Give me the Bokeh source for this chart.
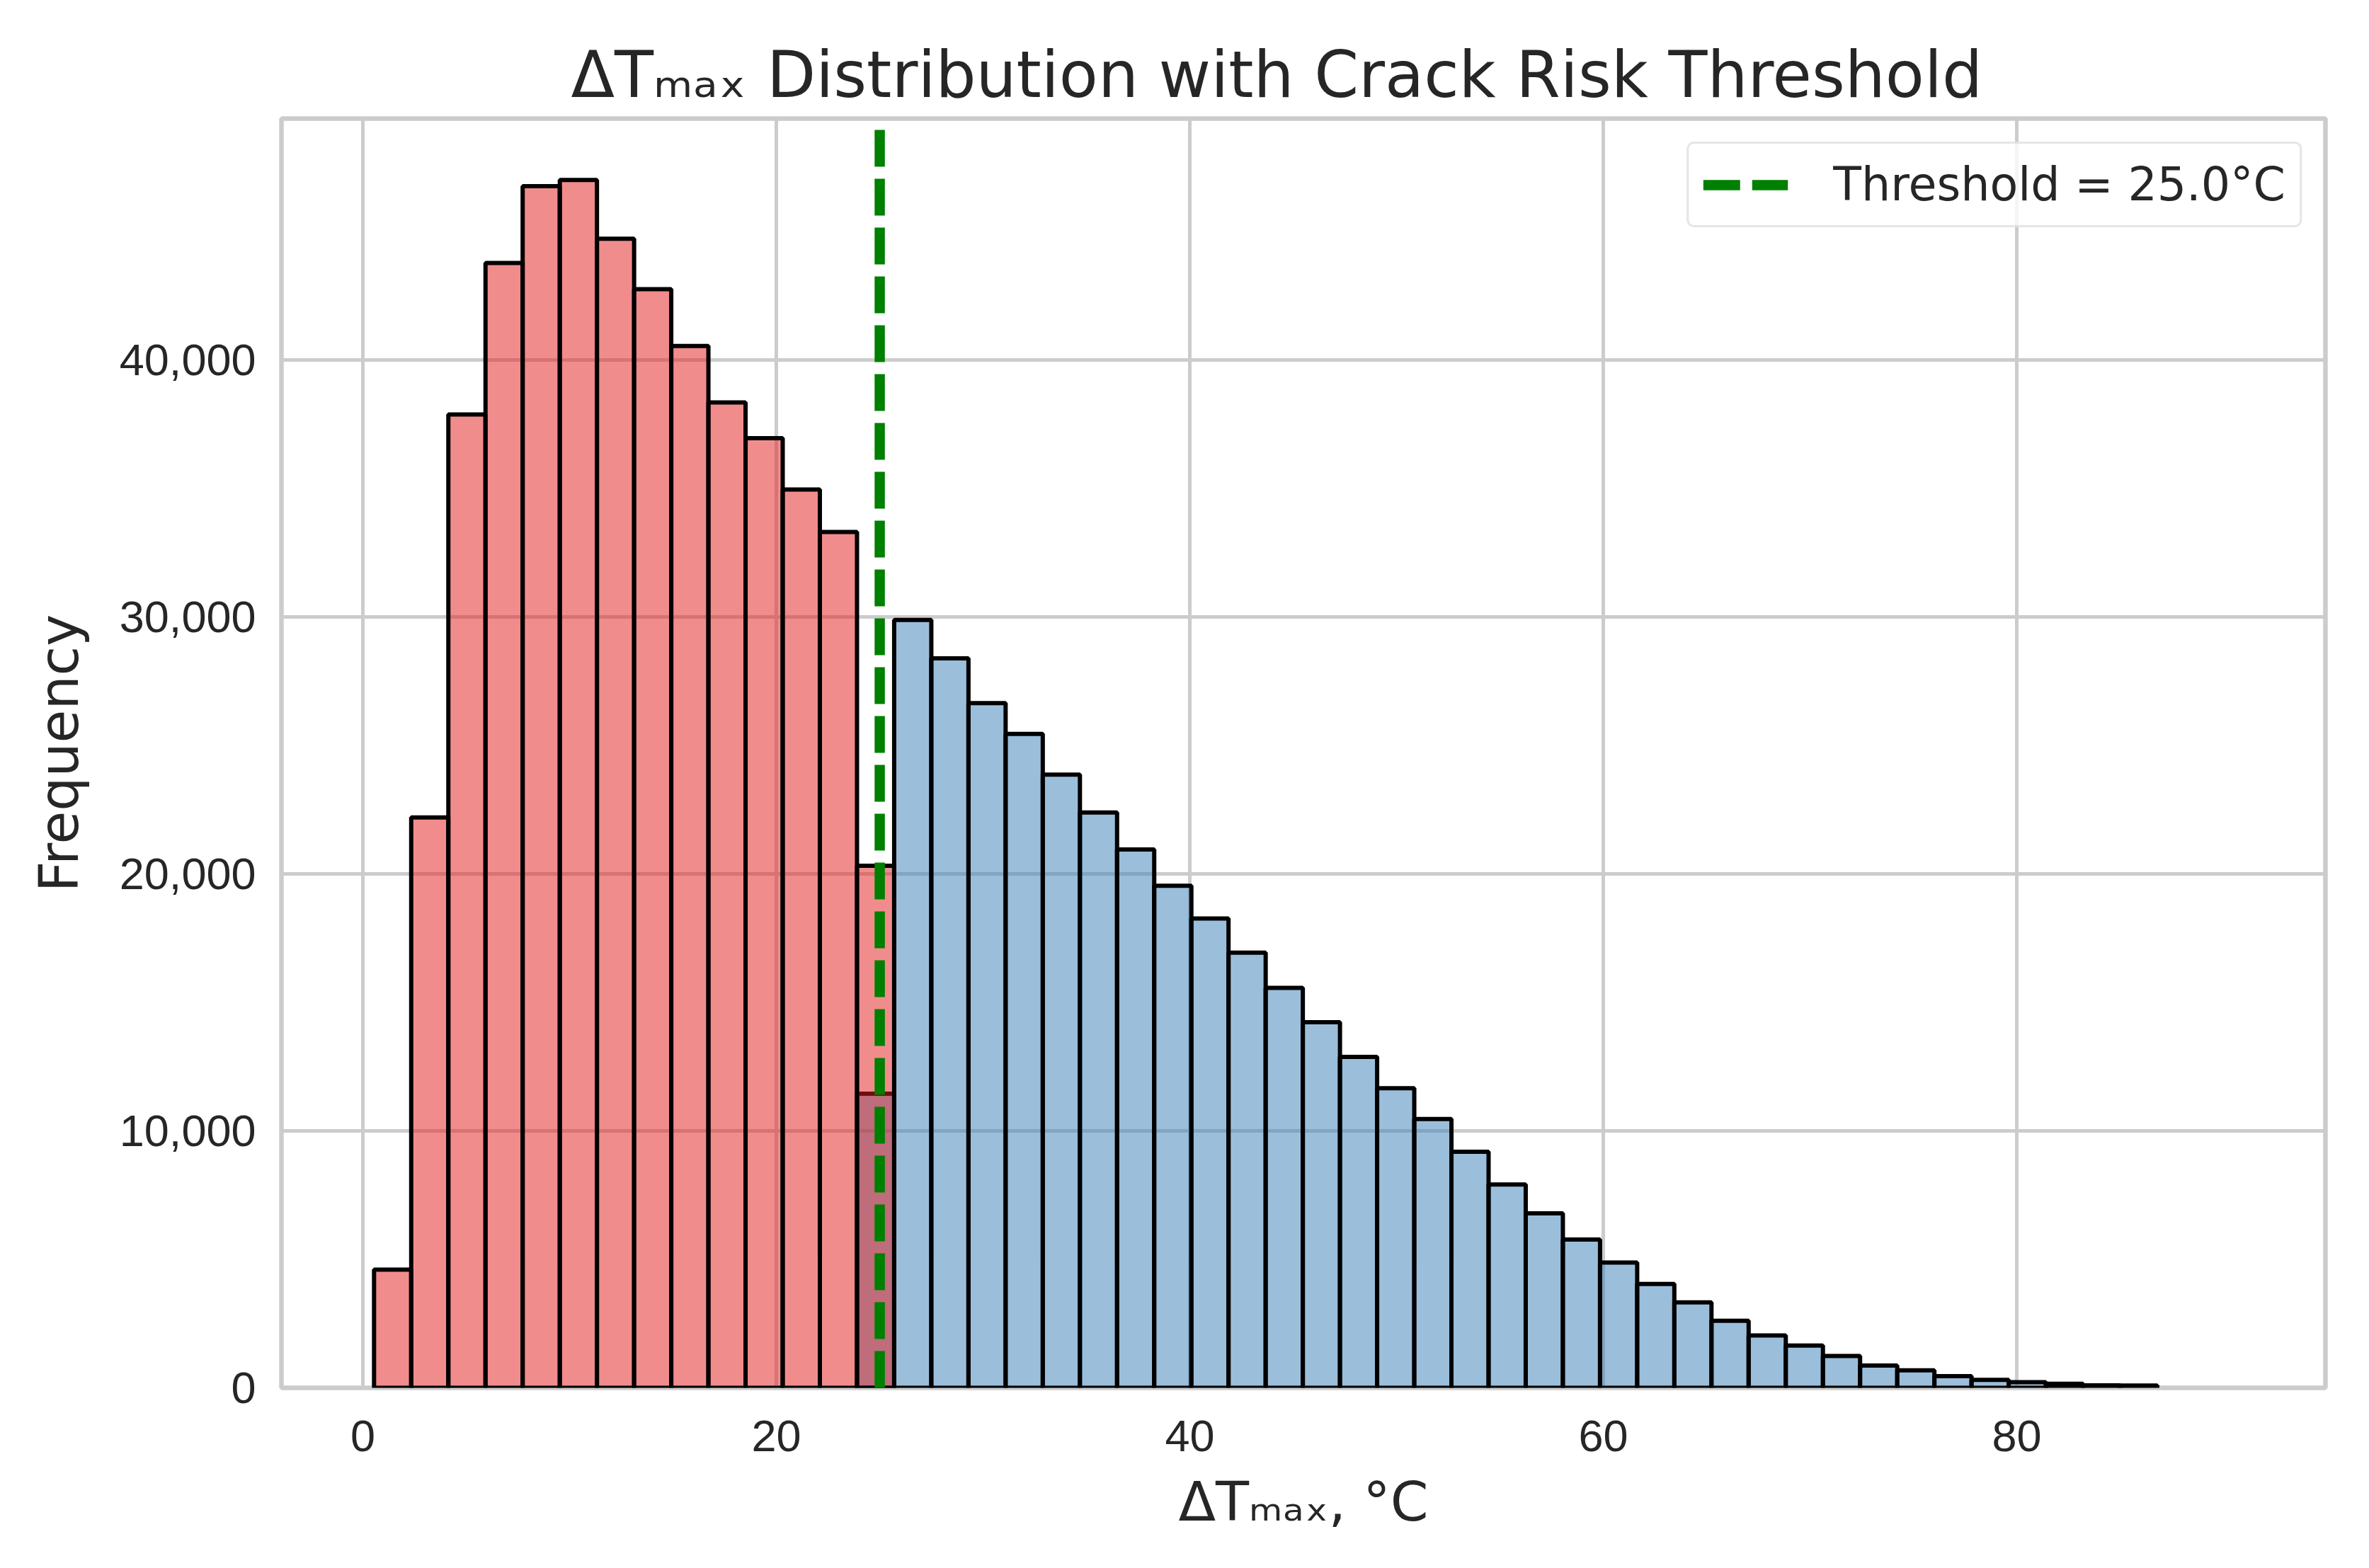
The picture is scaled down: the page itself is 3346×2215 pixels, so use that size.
import numpy as np
from bokeh.plotting import figure
from bokeh.models import (Range1d, FixedTicker, NumeralTickFormatter,
                          Legend, LegendItem)
from bokeh.embed import file_html
from bokeh.resources import INLINE

# ---------------- data ----------------
bin_start = 0.54
bin_width = 1.797
threshold = 25.0

# counts of values below the threshold (last entry = split bin containing 25.0)
below_counts = [4600, 22200, 37880, 43780, 46770, 47010, 44720, 42760, 40550,
                38350, 36960, 34960, 33310, 20320]
# counts of values at/above the threshold (first entry = split bin)
above_counts = [11450, 29890, 28390, 26650, 25450, 23870, 22390, 20950, 19540,
                18270, 16940, 15570, 14230, 12880, 11660, 10460, 9190, 7915,
                6790, 5770, 4880, 4040, 3325, 2610, 2040, 1645, 1240, 865,
                680, 457, 309, 222, 160, 99, 87]

x_ticks = [0, 20, 40, 60, 80]
y_ticks = [0, 10000, 20000, 30000, 40000]

title_text = "ΔTₘₐₓ Distribution with Crack Risk Threshold"
xlabel_text = "ΔTₘₐₓ, °C"
ylabel_text = "Frequency"
legend_text = "Threshold = 25.0°C"

# ---------------- layout ----------------
X0, X1 = -3.94, 94.93
Y0, Y1 = 0, 49400
FL, FT, FW, FH = 397, 167, 2887, 1793
WIDTH, HEIGHT = 3330, 2200

TEXT = "#262626"
FONT = "DejaVu Sans"

p = figure(frame_width=FW, frame_height=FH,
           x_range=Range1d(X0, X1), y_range=Range1d(Y0, Y1),
           output_backend="svg", toolbar_location=None,
           min_border_left=FL, min_border_right=WIDTH - FL - FW,
           min_border_top=FT, min_border_bottom=HEIGHT - FT - FH,
           background_fill_color="white", border_fill_color="white")

p.title.text = title_text
p.title.text_font = FONT
p.title.text_font_size = "90px"
p.title.text_font_style = "normal"
p.title.text_color = TEXT
p.title.align = "left"
p.title.offset = 409
p.title.standoff = 20

# histogram bars
n_below = len(below_counts)
below_left = bin_start + bin_width * np.arange(n_below)
above_left = bin_start + bin_width * (n_below - 1 + np.arange(len(above_counts)))

p.quad(left=above_left, right=above_left + bin_width, bottom=0, top=above_counts,
       fill_color="#377eb8", fill_alpha=0.5, line_color="black", line_width=6)
p.quad(left=below_left, right=below_left + bin_width, bottom=0, top=below_counts,
       fill_color="#e41a1c", fill_alpha=0.5, line_color="black", line_width=6)

thr = p.line(x=[threshold, threshold], y=[Y0, Y1], line_color="green",
             line_width=14.5, line_dash="52 17")

legend = Legend(items=[LegendItem(label=legend_text, renderers=[thr])],
                location="top_right", margin=33, padding=20,
                glyph_width=120, glyph_height=60, label_standoff=64,
                label_text_font=FONT, label_text_font_size="65px",
                label_text_color=TEXT,
                border_line_color="#cccccc", border_line_width=3.5,
                background_fill_color="white", background_fill_alpha=0.8)
if "border_radius" in Legend.properties():
    legend.border_radius = 10
p.add_layout(legend, "center")

# axes
for ax in (p.xaxis, p.yaxis):
    ax.axis_line_color = None
    ax.major_tick_line_color = None
    ax.minor_tick_line_color = None
    ax.major_tick_out = 0
    ax.major_tick_in = 0
    ax.major_label_text_font = "Liberation Sans"
    ax.major_label_text_font_size = "63px"
    ax.major_label_text_color = TEXT
    ax.axis_label_text_font = FONT
    ax.axis_label_text_font_style = "normal"
    ax.axis_label_text_color = TEXT

p.xaxis.ticker = FixedTicker(ticks=x_ticks)
p.yaxis.ticker = FixedTicker(ticks=y_ticks)
p.yaxis.formatter = NumeralTickFormatter(format="0,0")
p.xaxis.major_label_standoff = 46
p.yaxis.major_label_standoff = 36

p.xaxis.axis_label = xlabel_text
p.xaxis.axis_label_text_font_size = "77px"
p.xaxis.axis_label_standoff = 24
p.yaxis.axis_label = ylabel_text
p.yaxis.axis_label_text_font_size = "76px"
p.yaxis.axis_label_standoff = 38

p.xgrid.ticker = FixedTicker(ticks=x_ticks)
p.ygrid.ticker = FixedTicker(ticks=y_ticks)
p.grid.grid_line_color = "#cccccc"
p.grid.grid_line_width = 5

p.outline_line_color = "#cccccc"
p.outline_line_width = 6.5

open("out.html", "w").write(file_html(p, INLINE))
